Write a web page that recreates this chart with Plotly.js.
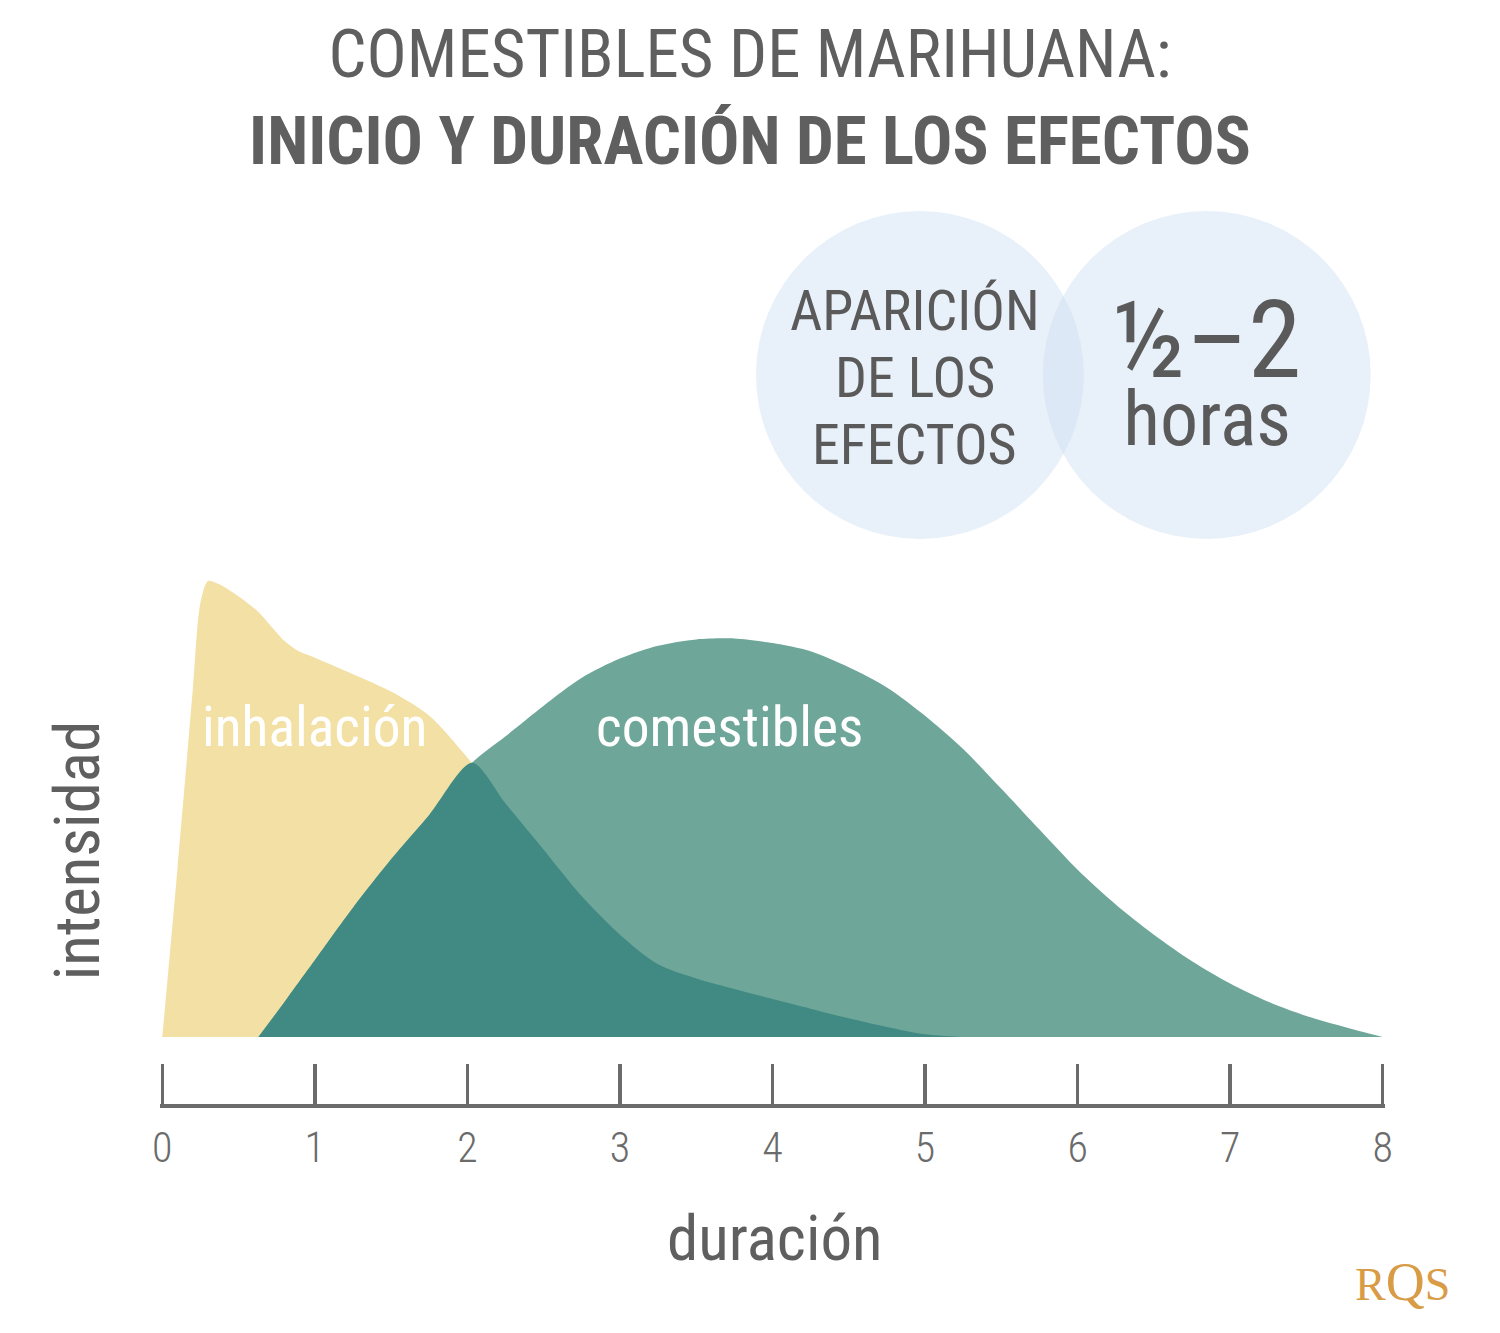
<!DOCTYPE html>
<html>
<head>
<meta charset="utf-8">
<script src="https://cdn.plot.ly/plotly-3.0.1.min.js"></script>
<style>
  html, body { margin: 0; padding: 0; background: #ffffff; }
  #chart { width: 1500px; height: 1333px; }
</style>
</head>
<body>
<div id="chart"></div>
<script>
// ---- data (hours vs relative intensity) ----
const durationHours = [0, 0.1, 0.2, 0.25, 0.3, 0.37, 0.47, 0.55, 0.63, 0.8, 0.88, 1.0, 1.25, 1.5, 1.75, 2.03, 2.25, 2.5, 2.75, 3.0, 3.25, 3.5, 3.75, 4.0, 4.25, 4.5, 4.75, 5.0, 5.25, 5.5, 5.75, 6.0, 6.25, 6.5, 6.75, 7.0, 7.25, 7.5, 7.75, 8.0];
const inhalationIntensity = [0, 37, 76, 95, 99.8, 99.1, 97.1, 95.2, 93.0, 86.7, 84.7, 83.0, 79.4, 75.6, 70.3, 60.0, 51.1, 41.0, 30.8, 22.4, 15.9, 12.8, 10.5, 8.3, 6.2, 4.1, 2.2, 0.6, 0, null, null, null, null, null, null, null, null, null, null, null];
const edibleIntensity = [null, null, null, null, null, null, null, null, 0, 7.6, 11.3, 16.8, 28.3, 38.9, 48.6, 60.0, 65.8, 72.5, 78.6, 82.8, 85.6, 87.0, 87.2, 86.2, 84.4, 80.9, 76.5, 70.3, 63.0, 54.3, 45.4, 36.6, 29.0, 22.4, 16.6, 11.7, 7.7, 4.6, 2.2, 0];
const tickValues = [0, 1, 2, 3, 4, 5, 6, 7, 8];
const tickLabels = ["0", "1", "2", "3", "4", "5", "6", "7", "8"];
const seriesNames = ["inhalación", "comestibles"];

// overlap of the two areas (where both effects are present)
const overlapIntensity = durationHours.map((_, i) => {
  const a = inhalationIntensity[i], b = edibleIntensity[i];
  if (a === null || b === null) return null;
  return Math.min(a, b);
});

const COND = "Roboto Condensed, Liberation Sans Narrow, DejaVu Sans Condensed, Roboto, sans-serif";
const GREY = "#5f5f5f";

const traces = [
  { x: durationHours, y: inhalationIntensity, name: seriesNames[0], type: "scatter", mode: "lines",
    line: { shape: "spline", smoothing: 0.8, width: 0, color: "#F2E0A5" },
    fill: "tozeroy", fillcolor: "#F2E0A5", hoverinfo: "skip" },
  { x: durationHours, y: edibleIntensity, name: seriesNames[1], type: "scatter", mode: "lines",
    line: { shape: "spline", smoothing: 0.8, width: 0, color: "#6EA799" },
    fill: "tozeroy", fillcolor: "#6EA799", hoverinfo: "skip" },
  { x: durationHours, y: overlapIntensity, name: "overlap", type: "scatter", mode: "lines",
    line: { shape: "spline", smoothing: 0.8, width: 0, color: "#418A83" },
    fill: "tozeroy", fillcolor: "#418A83", hoverinfo: "skip" }
];

// pixel geometry of the reference
const X0PX = 162, X8PX = 1383, BASEPX = 1037;
const pxPerHour = (X8PX - X0PX) / 8;
const pxPerUnit = 4.57;
const pad = 0.015;                      // tiny range padding so end ticks are drawn
const plotTop = 180, plotBottom = 1104;
const plotLeft = X0PX - pad * pxPerHour, plotRight = X8PX + pad * pxPerHour;
const pxX = p => (p - plotLeft) / (plotRight - plotLeft);
const pxY = p => (plotBottom - p) / (plotBottom - plotTop);
const yMin = -(plotBottom - BASEPX) / pxPerUnit;
const yMax = yMin + (plotBottom - plotTop) / pxPerUnit;

const layout = {
  width: 1500, height: 1333,
  paper_bgcolor: "#ffffff", plot_bgcolor: "rgba(0,0,0,0)",
  showlegend: false,
  margin: { l: plotLeft, r: 1500 - plotRight, t: plotTop, b: 1333 - plotBottom, pad: 0 },
  font: { family: COND, color: GREY },
  title: {
    text: "COMESTIBLES DE MARIHUANA:<br><b>INICIO Y DURACIÓN DE LOS EFECTOS</b>",
    font: { family: COND, size: 67, color: GREY },
    x: pxX(750), xanchor: "center", xref: "paper",
    yref: "container", y: 1 - 77 / 1333, yanchor: "middle"
  },
  xaxis: {
    range: [-pad, 8 + pad], tickvals: tickValues, ticktext: tickLabels,
    showgrid: false, zeroline: false, fixedrange: true,
    showline: true, linecolor: "#6b6b6b", linewidth: 4,
    ticks: "inside", ticklen: 40, tickwidth: 3.5, tickcolor: "#6b6b6b",
    tickfont: { family: COND, size: 42, color: "#6b6b6b", weight: 300 },
    ticklabelstandoff: 4
  },
  yaxis: { range: [yMin, yMax], visible: false, fixedrange: true },
  shapes: [
    { type: "circle", xref: "paper", yref: "paper", x0: pxX(756), x1: pxX(1084), y0: pxY(539), y1: pxY(211),
      fillcolor: "rgba(207,224,242,0.48)", line: { width: 0 }, layer: "below" },
    { type: "circle", xref: "paper", yref: "paper", x0: pxX(1043), x1: pxX(1371), y0: pxY(539), y1: pxY(211),
      fillcolor: "rgba(207,224,242,0.48)", line: { width: 0 }, layer: "below" }
  ],
  annotations: [
    { text: seriesNames[0], xref: "x", yref: "y", x: 0.245, y: 67.8, xanchor: "left", yanchor: "middle",
      showarrow: false, font: { family: COND, size: 55.5, color: "#ffffff" } },
    { text: seriesNames[1], xref: "x", yref: "y", x: 2.83, y: 67.8, xanchor: "left", yanchor: "middle",
      showarrow: false, font: { family: COND, size: 55.5, color: "#ffffff" } },
    { text: "APARICIÓN", xref: "paper", yref: "paper", x: pxX(915), y: pxY(311), xanchor: "center", yanchor: "middle",
      showarrow: false, font: { family: COND, size: 56, color: "#5a5a5a" } },
    { text: "DE LOS", xref: "paper", yref: "paper", x: pxX(915), y: pxY(378), xanchor: "center", yanchor: "middle",
      showarrow: false, font: { family: COND, size: 56, color: "#5a5a5a" } },
    { text: "EFECTOS", xref: "paper", yref: "paper", x: pxX(915), y: pxY(445), xanchor: "center", yanchor: "middle",
      showarrow: false, font: { family: COND, size: 56, color: "#5a5a5a" } },
    { text: "<span style='font-size:108px'>½–2</span><br><span style='font-size:76px'>horas</span>",
      xref: "paper", yref: "paper", x: pxX(1207), y: pxY(370), xanchor: "center", yanchor: "middle",
      showarrow: false, font: { family: COND, size: 52, color: "#5a5a5a" } },
    { text: "duración", xref: "paper", yref: "paper", x: pxX(775), y: pxY(1238), xanchor: "center", yanchor: "middle",
      showarrow: false, font: { family: COND, size: 63, color: GREY } },
    { text: "intensidad", xref: "paper", yref: "paper", x: pxX(78), y: pxY(850), xanchor: "center", yanchor: "middle",
      textangle: -90, showarrow: false, font: { family: COND, size: 63, color: GREY } },
    { text: "R<span style='font-size:54px'>Q</span>S", xref: "paper", yref: "paper", x: pxX(1403), y: pxY(1282), xanchor: "center", yanchor: "middle",
      showarrow: false, font: { family: "Liberation Serif, DejaVu Serif, serif", size: 46, color: "#D99C46" } }
  ]
};

Plotly.newPlot("chart", traces, layout, { staticPlot: true, displayModeBar: false });
</script>
</body>
</html>
